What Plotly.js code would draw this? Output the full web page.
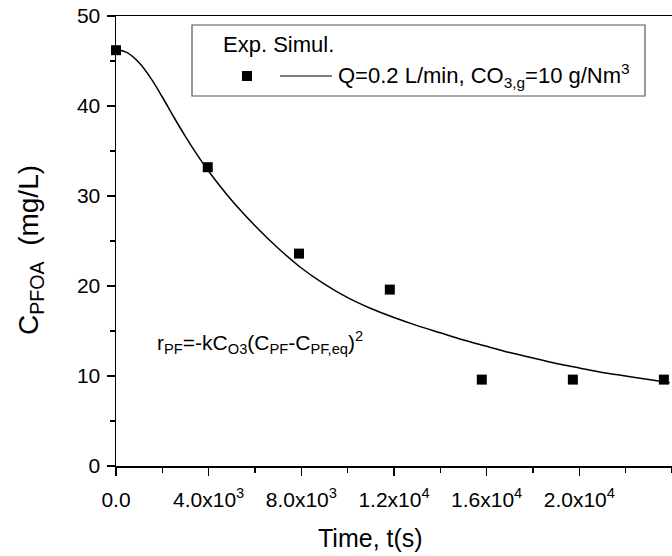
<!DOCTYPE html>
<html>
<head>
<meta charset="utf-8">
<script src="https://cdn.plot.ly/plotly-3.0.1.min.js"></script>
<style>html,body{margin:0;padding:0;background:#fff;}#chart{width:672px;height:556px;}</style>
</head>
<body>
<div id="chart"></div>
<script>
// Experimental points
const expTime = [0, 3960, 7900, 11820, 15790, 19720, 23650];
const expConc = [46.2, 33.2, 23.6, 19.6, 9.6, 9.6, 9.6];
// Simulated curve
const simTime = [0, 500, 1000, 1500, 2000, 2500, 3000, 3500, 4000, 5000, 6000, 7000, 8000, 9000, 10000, 11000, 12000, 13000, 14000, 15000, 16000, 17000, 18000, 19000, 20000, 21000, 22000, 23000, 23900];
const simConc = [46.3, 45.9, 44.8, 43.1, 41.0, 38.75, 36.6, 34.6, 32.75, 29.5, 26.7, 24.2, 22.0, 20.2, 18.7, 17.5, 16.5, 15.6, 14.8, 14.0, 13.3, 12.6, 12.0, 11.4, 10.9, 10.4, 10.0, 9.6, 9.25];
// Axis ticks
const xTickVals = [0, 4000, 8000, 12000, 16000, 20000];
const xTickText = ['0.0', '4.0x10<sup>3</sup>', '8.0x10<sup>3</sup>', '1.2x10<sup>4</sup>', '1.6x10<sup>4</sup>', '2.0x10<sup>4</sup>'];
const yTickVals = [0, 10, 20, 30, 40, 50];
// Texts
const xTitle = 'Time, t(s)';
const yTitle = 'C<sub>PFOA</sub>  (mg/L)';
const legendHeader = 'Exp. Simul.';
const legendLabel = 'Q=0.2 L/min, CO<sub>3,g</sub>=10 g/Nm<sup>3</sup>';
const rateLaw = 'r<sub>PF</sub>=-kC<sub>O3</sub>(C<sub>PF</sub>-C<sub>PF,eq</sub>)<sup>2</sup>';

const FONT = 'Arial, "Liberation Sans", sans-serif';
const W = 672, H = 556, ML = 116, MR = 0, MT = 16, MB = 90;
const pw = W - ML - MR, ph = H - MT - MB;
const px = v => (v - ML) / pw;
const py = v => (H - MB - v) / ph;

const traces = [
  {x: simTime, y: simConc, mode: 'lines', line: {color: '#000', width: 1.5, shape: 'spline', smoothing: 1}, hoverinfo: 'skip', showlegend: false},
  {x: expTime, y: expConc, mode: 'markers', marker: {symbol: 'square', size: 10, color: '#000'}, cliponaxis: false, showlegend: false}
];

const axisCommon = {
  showgrid: false, zeroline: false, showline: true, linecolor: '#000', linewidth: 1.5,
  mirror: true, ticks: 'outside', ticklen: 8, tickwidth: 1.5, tickcolor: '#000',
  tickfont: {family: FONT, size: 21, color: '#000'}
};

const layout = {
  width: W, height: H,
  margin: {l: ML, r: MR, t: MT, b: MB},
  paper_bgcolor: '#fff', plot_bgcolor: '#fff',
  font: {family: FONT, color: '#000'},
  showlegend: false,
  xaxis: Object.assign({}, axisCommon, {
    range: [0, 24000], tickmode: 'array', tickvals: xTickVals, ticktext: xTickText,
    ticklabelstandoff: 6,
    minor: {dtick: 2000, tick0: 0, ticks: 'outside', ticklen: 5, tickwidth: 1.5, tickcolor: '#000'}
  }),
  yaxis: Object.assign({}, axisCommon, {
    range: [0, 50], tickmode: 'array', tickvals: yTickVals,
    ticklabelstandoff: 2,
    minor: {dtick: 5, tick0: 0, ticks: 'outside', ticklen: 5, tickwidth: 1.5, tickcolor: '#000'}
  }),
  shapes: [
    {type: 'rect', xref: 'paper', yref: 'paper', x0: px(192), x1: px(645), y0: py(96), y1: py(25), line: {color: '#555', width: 1.2}, fillcolor: 'rgba(0,0,0,0)'},
    {type: 'rect', xref: 'paper', yref: 'paper', x0: px(242), x1: px(252), y0: py(81), y1: py(71), line: {width: 0}, fillcolor: '#000'},
    {type: 'line', xref: 'paper', yref: 'paper', x0: px(280), x1: px(332), y0: py(76), y1: py(76), line: {color: '#000', width: 1.2}}
  ],
  annotations: [
    {xref: 'paper', yref: 'paper', x: px(370), y: py(538), xanchor: 'center', yanchor: 'middle', showarrow: false, text: xTitle, font: {family: FONT, size: 25, color: '#000'}},
    {xref: 'paper', yref: 'paper', x: px(30), y: py(250), xanchor: 'center', yanchor: 'middle', textangle: -90, showarrow: false, text: yTitle, font: {family: FONT, size: 28, color: '#000'}},
    {xref: 'paper', yref: 'paper', x: px(221), y: py(45), xanchor: 'left', yanchor: 'middle', showarrow: false, text: legendHeader, font: {family: FONT, size: 22, color: '#000'}},
    {xref: 'paper', yref: 'paper', x: px(336), y: py(76), xanchor: 'left', yanchor: 'middle', showarrow: false, text: legendLabel, font: {family: FONT, size: 22, color: '#000'}},
    {xref: 'paper', yref: 'paper', x: px(155), y: py(342), xanchor: 'left', yanchor: 'middle', showarrow: false, text: rateLaw, font: {family: FONT, size: 21, color: '#000'}}
  ]
};

Plotly.newPlot('chart', traces, layout, {staticPlot: true, displayModeBar: false});
</script>
</body>
</html>
